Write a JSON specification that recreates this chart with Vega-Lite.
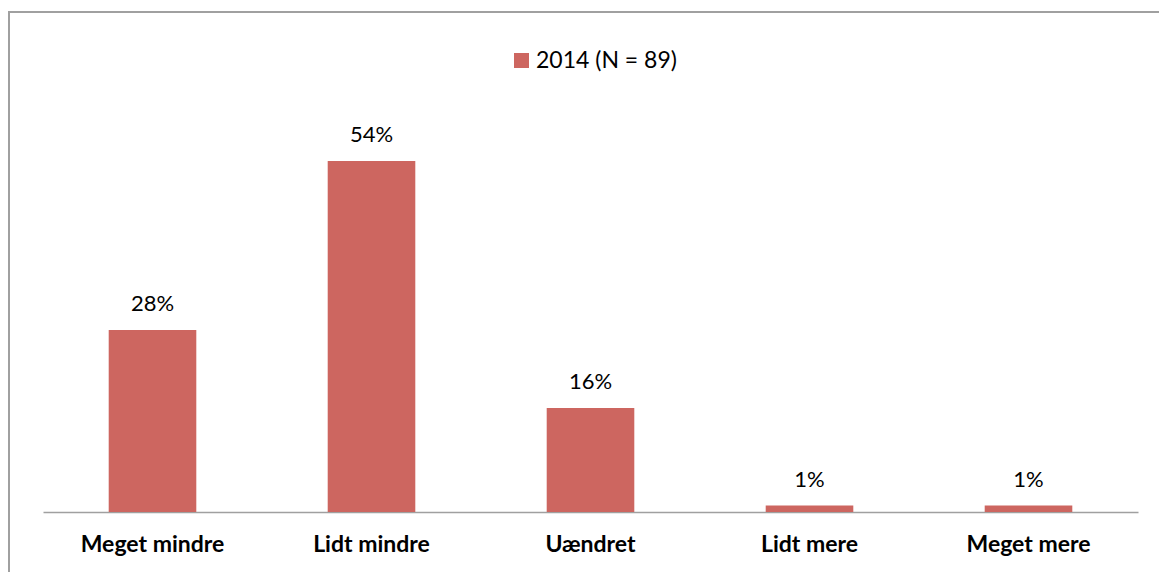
{
  "$schema": "https://vega.github.io/schema/vega-lite/v6.json",
  "width": 1160,
  "height": 580,
  "autosize": {"type": "none"},
  "padding": {"left": 9, "top": 12, "right": 0, "bottom": 0},
  "background": "white",
  "config": {
    "view": {"stroke": "#a0a0a0", "strokeWidth": 2},
    "font": "Lato"
  },
  "data": {
    "values": [
      {"category": "Meget mindre", "value": 0.28, "series": "2014 (N = 89)"},
      {"category": "Lidt mindre", "value": 0.54, "series": "2014 (N = 89)"},
      {"category": "Uændret", "value": 0.16, "series": "2014 (N = 89)"},
      {"category": "Lidt mere", "value": 0.01, "series": "2014 (N = 89)"},
      {"category": "Meget mere", "value": 0.01, "series": "2014 (N = 89)"}
    ]
  },
  "encoding": {
    "x": {
      "field": "category",
      "type": "nominal",
      "sort": null,
      "scale": {"range": [34, 1129], "paddingInner": 0.6, "paddingOuter": 0.3},
      "axis": {
        "title": null,
        "labelAngle": 0,
        "labelFont": "Lato",
        "labelFontWeight": "bold",
        "labelFontSize": 23,
        "labelColor": "#000000",
        "labelPadding": 21,
        "ticks": false,
        "domainColor": "#a0a0a0",
        "domainWidth": 1.5,
        "offset": -80
      }
    },
    "y": {
      "field": "value",
      "type": "quantitative",
      "scale": {"domain": [0, 0.6], "range": [500, 110], "nice": false, "zero": true},
      "axis": null
    }
  },
  "layer": [
    {
      "mark": {"type": "bar"},
      "encoding": {
        "color": {
          "field": "series",
          "type": "nominal",
          "scale": {"range": ["#cd6660"]},
          "legend": {
            "title": null,
            "orient": "none",
            "legendX": 501,
            "legendY": 37,
            "symbolType": "square",
            "symbolSize": 225,
            "symbolStrokeWidth": 0,
            "labelFont": "Lato",
            "labelFontSize": 23,
            "labelColor": "#000000",
            "labelOffset": 3
          }
        }
      }
    },
    {
      "mark": {"type": "text", "font": "Lato", "fontSize": 22, "color": "#000000", "baseline": "alphabetic", "dy": -19},
      "encoding": {
        "text": {"field": "value", "type": "quantitative", "format": ".0%"}
      }
    }
  ]
}
